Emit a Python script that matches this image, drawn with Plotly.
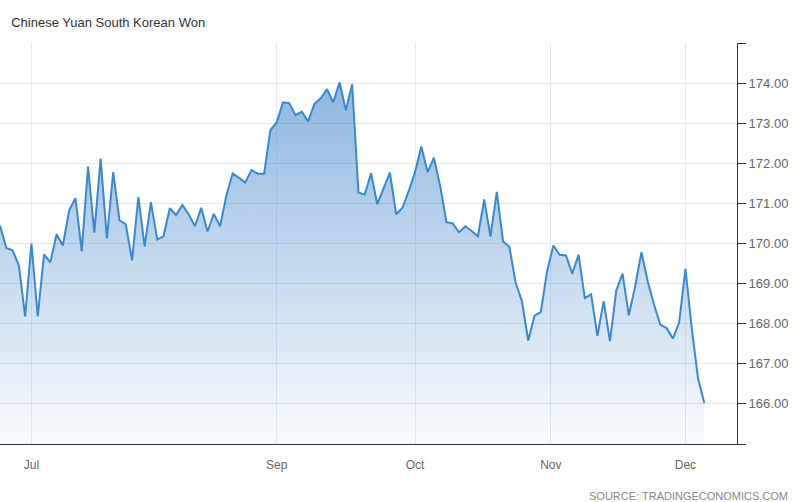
import plotly.graph_objects as go

# CNY/KRW daily closes (one point per trading day)
values = [
    170.45, 169.89, 169.83, 169.45, 168.18, 170.00, 168.18, 169.73, 169.53, 170.23,
    169.95, 170.83, 171.13, 169.81, 171.92, 170.27, 172.12, 170.13, 171.78, 170.58,
    170.48, 169.58, 171.16, 169.93, 171.03, 170.10, 170.18, 170.88, 170.71, 170.96,
    170.73, 170.43, 170.89, 170.30, 170.74, 170.43, 171.20, 171.75, 171.64, 171.52,
    171.83, 171.74, 171.74, 172.83, 173.02, 173.52, 173.50, 173.20, 173.29, 173.04,
    173.48, 173.62, 173.85, 173.52, 174.02, 173.33, 173.97, 171.27, 171.22, 171.75,
    170.98, 171.38, 171.77, 170.73, 170.89, 171.31, 171.78, 172.42, 171.78, 172.14,
    171.43, 170.53, 170.50, 170.28, 170.43, 170.31, 170.18, 171.10, 170.17, 171.29,
    170.05, 169.92, 169.02, 168.56, 167.58, 168.20, 168.29, 169.31, 169.95, 169.72,
    169.70, 169.25, 169.72, 168.64, 168.73, 167.70, 168.56, 167.56, 168.83, 169.25,
    168.21, 168.93, 169.78, 169.06, 168.48, 167.98, 167.89, 167.63, 168.03, 169.37,
    167.89, 166.64, 166.02,
]
days = list(range(len(values)))

# month starts, as positions in the trading-day index
month_pos = [5, 44, 66, 87.6, 109]
month_labels = ["Jul", "Sep", "Oct", "Nov", "Dec"]

y_ticks = [165, 166, 167, 168, 169, 170, 171, 172, 173, 174, 175]
y_labels = ["" if v in (165, 175) else f"{v:.2f}" for v in y_ticks]

fig = go.Figure(
    go.Scatter(
        x=days,
        y=values,
        mode="lines",
        line=dict(color="#3b88cc", width=2),
        fill="tozeroy",
        fillgradient=dict(
            type="vertical",
            start=165,
            stop=174.5,
            colorscale=[[0, "rgba(55,130,200,0.03)"], [1, "rgba(55,130,200,0.6)"]],
        ),
        hoverinfo="skip",
    )
)

fig.update_xaxes(
    range=[0, 117.2],
    tickvals=month_pos,
    ticktext=month_labels,
    showgrid=True,
    gridcolor="#e3eaf2",
    gridwidth=1,
    zeroline=False,
    showline=True,
    linecolor="#333333",
    linewidth=1,
    ticks="",
    ticklabelstandoff=10,
    automargin=False,
    tickfont=dict(family="Liberation Sans, Arial", size=12, color="#666666"),
)

fig.update_yaxes(
    side="right",
    range=[165, 175],
    tickvals=y_ticks,
    ticktext=y_labels,
    showgrid=True,
    gridcolor="#e6e6e6",
    gridwidth=1,
    zeroline=False,
    showline=True,
    linecolor="#333333",
    linewidth=1,
    ticks="outside",
    ticklen=8,
    tickcolor="#333333",
    automargin=False,
    tickfont=dict(family="Liberation Sans, Arial", size=13, color="#666666"),
)

fig.update_layout(
    width=800,
    height=502,
    margin=dict(l=0, r=63, t=43, b=58, autoexpand=False),
    plot_bgcolor="white",
    paper_bgcolor="white",
    showlegend=False,
    title=dict(
        text="Chinese Yuan South Korean Won",
        x=0.014,
        xanchor="left",
        y=0.955,
        yanchor="middle",
        font=dict(family="Liberation Sans, Arial", size=13, color="#333333"),
    ),
    annotations=[
        dict(
            text="SOURCE: TRADINGECONOMICS.COM",
            xref="paper",
            yref="paper",
            x=1.072,
            y=-0.13,
            xanchor="right",
            yanchor="middle",
            showarrow=False,
            font=dict(family="Liberation Sans, Arial", size=11, color="#888888"),
        )
    ],
)

# drop the browser's default 8px body margin so the figure sits at the corner
fig.write_html(
    "out.html",
    config={"displayModeBar": False},
    post_script="document.body.style.margin='0';",
)
